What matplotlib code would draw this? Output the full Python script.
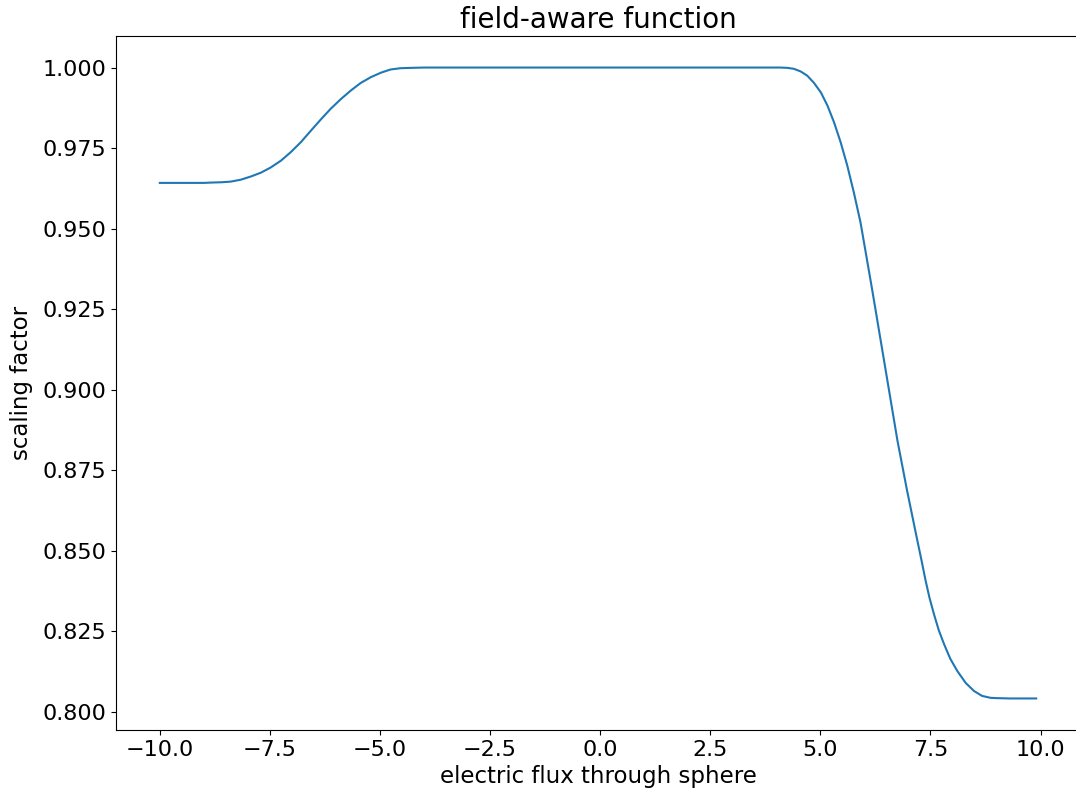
import matplotlib
matplotlib.use('Agg')
import matplotlib.pyplot as plt

# points
flux = [-10.0, -9.5, -9.0, -8.84, -8.6, -8.39, -8.16, -7.93, -7.70, -7.48,
        -7.25, -7.03, -6.80, -6.57, -6.35, -6.12, -5.89, -5.66, -5.44, -5.21,
        -4.98, -4.76, -4.53, -4.30, -4.0, -3.0, -1.5, 0.0, 1.5, 3.0,
        4.10, 4.25, 4.40, 4.55, 4.70, 4.85, 5.01, 5.16, 5.31, 5.46,
        5.61, 5.76, 5.91, 6.05, 6.18, 6.37, 6.56, 6.75, 6.97, 7.20,
        7.30, 7.39, 7.48, 7.58, 7.69, 7.81, 7.95, 8.11, 8.30, 8.49,
        8.67, 8.86, 9.0, 9.3, 9.9]
scaling = [0.9642, 0.9642, 0.9642, 0.9643, 0.9644, 0.9646, 0.9652, 0.9662, 0.9674, 0.9690,
           0.9711, 0.9737, 0.9768, 0.9804, 0.9838, 0.9872, 0.9902, 0.9929, 0.9952, 0.9970,
           0.9984, 0.9994, 0.9998, 0.9999, 1.0, 1.0, 1.0, 1.0, 1.0, 1.0,
           1.0, 0.9999, 0.9996, 0.9988, 0.9975, 0.9953, 0.9923, 0.9882, 0.9830, 0.9768,
           0.9696, 0.9612, 0.9520, 0.9410, 0.9307, 0.9152, 0.8997, 0.8842, 0.8686, 0.8533,
           0.8468, 0.8407, 0.8353, 0.8303, 0.8253, 0.8210, 0.8165, 0.8127, 0.8090, 0.8065,
           0.8050, 0.8044, 0.8043, 0.8042, 0.8042]

plt.figure(figsize=(10.76, 7.98), dpi=100)
ax = plt.axes([116/1076, 1 - 730/798, 964/1076, 694/798])
ax.plot(flux, scaling, color='#1f77b4', linewidth=1.5)
ax.set_title('field-aware function', fontsize=20)
ax.set_xlabel('electric flux through sphere', fontsize=16.5)
ax.set_ylabel('scaling factor', fontsize=16.5, labelpad=7)
ax.tick_params(labelsize=16)

plt.savefig('out.png', dpi=100)
plt.close()
